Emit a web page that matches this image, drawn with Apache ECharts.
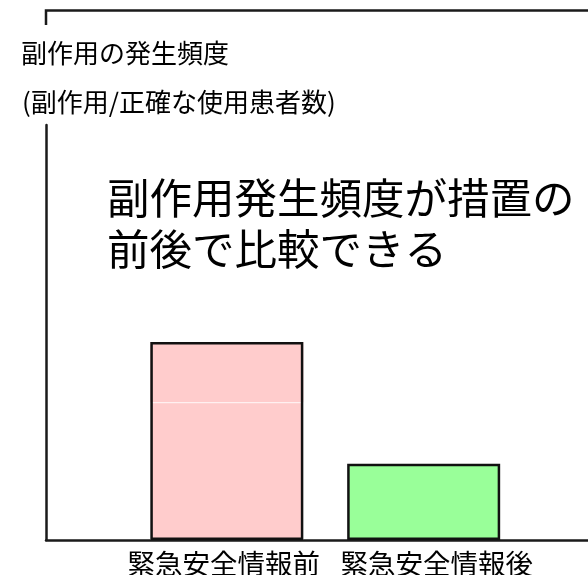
<!DOCTYPE html>
<html>
<head>
<meta charset="utf-8">
<script src="https://cdn.jsdelivr.net/npm/echarts@6/dist/echarts.min.js"></script>
<style>
html,body{margin:0;padding:0;background:#fff;}
#c{width:588px;height:575px;}
</style>
</head>
<body>
<div id="c"></div>
<script>
const categories = ['緊急安全情報前', '緊急安全情報後'];
const values = [2.6, 1.0];
const innerLine = 1.81;           // level of the thin white line inside the first bar
const barColors = ['#FFCCCC', '#99FF99'];
const yTitle = ['副作用の発生頻度', '(副作用/正確な使用患者数)'];
const note = '副作用発生頻度が措置の\n前後で比較できる';

const FONT = '"Noto Sans CJK JP", "Noto Sans", sans-serif';
const chart = echarts.init(document.getElementById('c'), null, {renderer: 'canvas'});

const option = {
  backgroundColor: '#fff',
  animation: false,
  grid: [
    {left: 128.4, width: 393.7, top: 125, bottom: 35, containLabel: false, outerBoundsMode: 'none'},
    {left: 46, right: 0, top: 125, bottom: 35, containLabel: false, outerBoundsMode: 'none'}
  ],
  xAxis: [
    {
      type: 'category', gridIndex: 0, data: categories,
      axisLine: {show: false}, axisTick: {show: false},
      axisLabel: {
        interval: 0, hideOverlap: false,
        margin: 10, fontFamily: FONT, fontSize: 27.5, color: '#000',
        formatter: (v, i) => i === 0 ? '{a|' + v + '}' : '{b|' + v + '}',
        rich: {
          a: {fontFamily: FONT, fontSize: 27.5, color: '#000', padding: [0, 6, 0, 0]},
          b: {fontFamily: FONT, fontSize: 27.5, color: '#000', padding: [0, 0, 0, 26]}
        }
      }
    },
    {
      type: 'value', gridIndex: 1, min: 0, max: 1,
      axisLine: {show: true, onZero: false, lineStyle: {color: '#1a1a1a', width: 2.5}},
      axisTick: {show: false}, axisLabel: {show: false}, splitLine: {show: false}
    }
  ],
  yAxis: [
    {
      type: 'value', gridIndex: 0, min: 0, max: 5.45,
      axisLine: {show: false}, axisTick: {show: false},
      axisLabel: {show: false}, splitLine: {show: false}
    },
    {
      type: 'value', gridIndex: 1, min: 0, max: 1,
      axisLine: {show: true, onZero: false, lineStyle: {color: '#1a1a1a', width: 2.5}},
      axisTick: {show: false}, axisLabel: {show: false}, splitLine: {show: false}
    }
  ],
  series: [
    {
      type: 'bar', stack: 'a', xAxisIndex: 0, yAxisIndex: 0, barWidth: 153,
      data: [innerLine, null],
      itemStyle: {color: barColors[0], borderColor: '#fff', borderWidth: 1}
    },
    {
      type: 'bar', stack: 'a', xAxisIndex: 0, yAxisIndex: 0, barWidth: 153,
      data: [values[0] - innerLine, null],
      itemStyle: {color: barColors[0], borderWidth: 0}
    },
    {
      type: 'bar', xAxisIndex: 0, yAxisIndex: 0, barWidth: 153, barGap: '-100%',
      data: [
        {value: values[0], itemStyle: {color: 'rgba(0,0,0,0)'}},
        {value: values[1], itemStyle: {color: barColors[1]}}
      ],
      itemStyle: {borderColor: '#111', borderWidth: 2.5},
      z: 5
    }
  ],
  graphic: [
    {
      type: 'polyline', z: 10,
      shape: {points: [[46, 25], [46, 10.5], [588, 10.5]]},
      style: {stroke: '#1a1a1a', lineWidth: 2.5, fill: null}
    },
    {
      type: 'text', left: 21, top: 40,
      style: {text: yTitle[0], font: '26px ' + FONT, fill: '#000'}
    },
    {
      type: 'text', left: 22, top: 89,
      style: {text: yTitle[1], font: '26px ' + FONT, fill: '#000'}
    },
    {
      type: 'text', left: 107, top: 172,
      style: {text: note, font: '42.5px ' + FONT, fill: '#000', lineHeight: 51}
    }
  ]
};
chart.setOption(option);
</script>
</body>
</html>
